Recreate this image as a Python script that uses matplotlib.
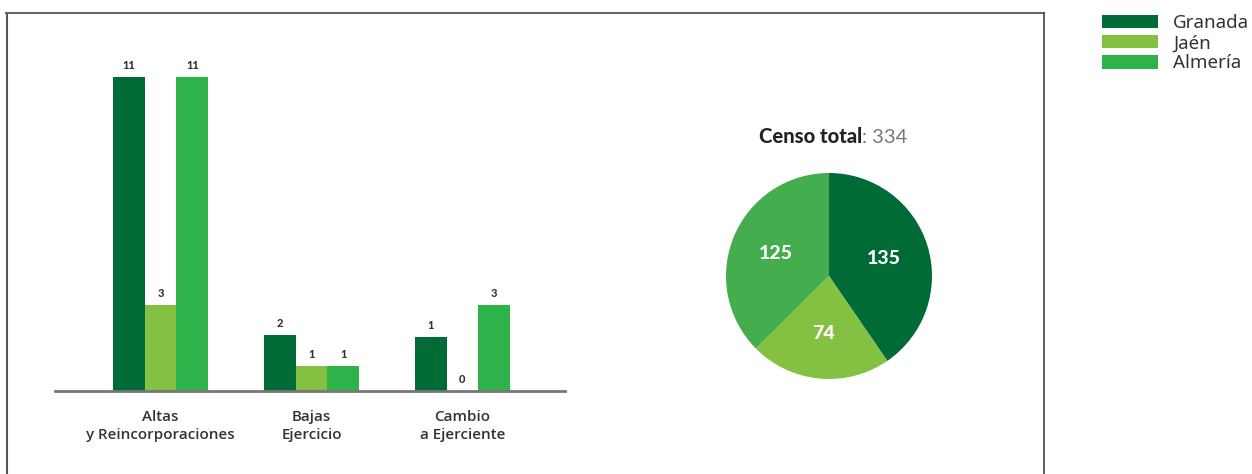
import matplotlib
matplotlib.use("Agg")
import matplotlib.pyplot as plt
import numpy as np
from matplotlib.patches import Patch

categories = ["Altas\ny Reincorporaciones", "Bajas\nEjercicio", "Cambio\na Ejerciente"]
series = ["Granada", "Jaén", "Almería"]
# bar heights as drawn in the picture
granada = [11, 1.96, 1.89]
jaen = [3, 0.88, 0]
almeria = [11, 0.88, 3]
# value labels as printed
granada_labels = ["11", "2", "1"]
jaen_labels = ["3", "1", "0"]
almeria_labels = ["11", "1", "3"]
censo = [135, 74, 125]
censo_total = 334

bar_colors = ["#006b37", "#84c142", "#2db34a"]
pie_colors = ["#006b37", "#84c142", "#44ad4e"]

plt.rcParams['font.family'] = ['Noto Sans', 'DejaVu Sans']
BOLD = ["Lato", "DejaVu Sans"]

W, H = 1252, 474
fig = plt.figure(figsize=(W / 100, H / 100), dpi=100)

def fx(px):
    return px / W

def fy(py):
    return 1 - py / H

# frame
fig.add_artist(plt.Line2D([fx(6.5), fx(6.5)], [fy(13), 0], color="#555555", lw=1.5, transform=fig.transFigure))
fig.add_artist(plt.Line2D([fx(6), fx(1044)], [fy(13), fy(13)], color="#666666", lw=1.5, transform=fig.transFigure))
fig.add_artist(plt.Line2D([fx(1044), fx(1044)], [fy(13), 0], color="#444444", lw=1.2, transform=fig.transFigure))

# bar chart
ax = fig.add_axes([fx(55), fy(391), fx(565) - fx(55), fy(48.5) - fy(391)])
x = np.arange(len(categories))
w = 0.21
for i, (vals, labs, col) in enumerate(zip([granada, jaen, almeria],
                                          [granada_labels, jaen_labels, almeria_labels],
                                          bar_colors)):
    pos = x + (i - 1) * w
    ax.bar(pos, vals, width=w, color=col, linewidth=0, zorder=2)
    for p, v, lab in zip(pos, vals, labs):
        ax.text(p, v + 0.22, lab, ha="center", va="bottom", fontsize=8,
                fontweight="black", color="#333333", family=BOLD)
ax.set_xlim(-0.70, 2.68)
ax.set_ylim(0, 12)
for s in ["top", "right", "left"]:
    ax.spines[s].set_visible(False)
ax.spines["bottom"].set_color("#777777")
ax.spines["bottom"].set_linewidth(2)
ax.set_yticks([])
ax.set_xticks(x)
ax.set_xticklabels(categories, fontsize=10.9, color="#333333", linespacing=1.32,
                   fontweight="semibold", family=["Open Sans", "DejaVu Sans"])
ax.tick_params(axis="x", length=0, pad=14)

# pie
cx, cy, r = 829, 276, 103
pax = fig.add_axes([fx(cx - r), fy(cy + r), fx(2 * r), fy(cy - r) - fy(cy + r)])
wedges, texts = pax.pie(censo, colors=pie_colors, startangle=90, counterclock=False,
                        labels=[str(v) for v in censo], labeldistance=0.56,
                        wedgeprops=dict(linewidth=0))
for t in texts:
    t.set_color("white")
    t.set_fontsize(14)
    t.set_fontweight("black")
    t.set_family(BOLD)
    t.set_ha("center")
    t.set_va("center")
pax.set_xlim(-1, 1)
pax.set_ylim(-1, 1)
pax.set_aspect("equal")

# title
fig.text(fx(862), fy(143), "Censo total", ha="right", va="baseline", fontsize=14.5,
         fontweight="black", color="#222222", family=BOLD)
fig.text(fx(862), fy(143), f": {censo_total}", ha="left", va="baseline", fontsize=14.5,
         fontweight="normal", color="#777777", family=BOLD)

# legend
handles = [Patch(facecolor=c, edgecolor="none") for c in bar_colors]
fig.legend(handles, series, loc="upper left", bbox_to_anchor=(fx(1102), fy(14)),
           frameon=False, fontsize=13.5, handlelength=3.0, handleheight=0.72,
           handletextpad=0.8, labelspacing=0.12, borderaxespad=0, borderpad=0,
           labelcolor="#333333")

fig.savefig("out.png", dpi=100)
